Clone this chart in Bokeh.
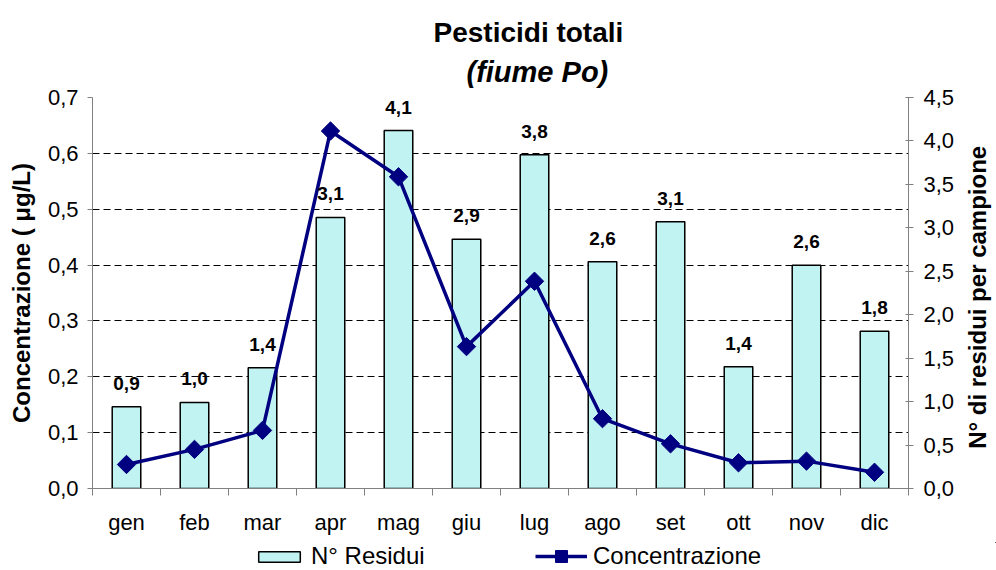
import math
from bokeh.plotting import figure
from bokeh.layouts import row, column
from bokeh.models import (Range1d, LinearAxis, FixedTicker, CustomJSTickFormatter,
                          ColumnDataSource, LabelSet, Legend, LegendItem, Title, Label)
from bokeh.core.properties import value
from bokeh.embed import file_html
from bokeh.resources import INLINE

# ---- data ----
months = ["gen", "feb", "mar", "apr", "mag", "giu", "lug", "ago", "set", "ott", "nov", "dic"]
n_residui = [0.94, 0.99, 1.39, 3.12, 4.12, 2.87, 3.84, 2.61, 3.07, 1.40, 2.57, 1.81]
concentrazione = [0.043, 0.070, 0.104, 0.640, 0.558, 0.254, 0.371, 0.125, 0.080, 0.046, 0.049, 0.029]
left_ticks = [i / 10 for i in range(8)]
right_ticks = [i / 2 for i in range(10)]

FONT = "Liberation Sans"
AXIS_GRAY = "#808080"
BAR_FILL = "#c2f3f3"
LINE_COL = "#000080"

xs = [i + 0.5 for i in range(len(months))]
bounds = [i for i in range(len(months) + 1)]
labels = [f"{v:.1f}".replace(".", ",") for v in n_residui]

src = ColumnDataSource(dict(x=xs, nres=n_residui, conc=concentrazione, lab=labels))

# ---------------- main chart ----------------
p = figure(width=962, height=542,
           x_range=Range1d(0, len(months)), y_range=Range1d(0, 0.7),
           output_backend="svg", toolbar_location=None,
           min_border_left=92, min_border_right=54, min_border_top=97, min_border_bottom=54)
p.extra_y_ranges = {"right": Range1d(0, 4.5)}
p.outline_line_color = None
p.background_fill_color = "white"
p.border_fill_color = "white"
p.xgrid.visible = False

# titles: main title on top, subtitle nearest the frame
p.title.text = "Pesticidi totali"
p.title.align = "left"
p.title.offset = 341
p.title.vertical_align = "bottom"
p.title.standoff = 0
p.title.text_font = FONT
p.title.text_font_size = "28px"
p.title.text_font_style = "bold"
p.title.text_color = "black"
p.add_layout(Title(text="(fiume Po)", align="left", offset=374, vertical_align="top",
                   standoff=16, text_font=FONT, text_font_size="29px",
                   text_font_style="bold italic", text_color="black"), "above")

comma_fmt = "return tick.toFixed(1).replace('.', ',');"

# left axis
ya = p.yaxis[0]
ya.ticker = FixedTicker(ticks=left_ticks)
ya.formatter = CustomJSTickFormatter(code=comma_fmt)
ya.axis_line_color = AXIS_GRAY
ya.major_tick_line_color = AXIS_GRAY
ya.major_tick_out = 5
ya.major_tick_in = 0
ya.minor_tick_line_color = None
ya.major_label_standoff = 9
ya.major_label_text_font = FONT
ya.major_label_text_font_size = "22px"
ya.major_label_text_color = "black"
ya.axis_label = "Concentrazione ( \u03bcg/L)"
ya.axis_label_standoff = 10
ya.axis_label_text_font = FONT
ya.axis_label_text_font_size = "24px"
ya.axis_label_text_font_style = "bold"
ya.axis_label_text_color = "black"

# grid
p.ygrid.ticker = FixedTicker(ticks=left_ticks[1:])
p.ygrid.grid_line_color = "black"
p.ygrid.grid_line_dash = "7 4"
p.ygrid.grid_line_width = 1

# right axis
ra = LinearAxis(y_range_name="right", ticker=FixedTicker(ticks=right_ticks),
                formatter=CustomJSTickFormatter(code=comma_fmt))
ra.axis_line_color = AXIS_GRAY
ra.major_tick_line_color = AXIS_GRAY
ra.major_tick_out = 5
ra.major_tick_in = 3
ra.minor_tick_line_color = None
ra.major_label_standoff = 10
ra.major_label_text_font = FONT
ra.major_label_text_font_size = "22px"
ra.major_label_text_color = "black"
p.add_layout(ra, "right")

# x axis
xa = p.xaxis[0]
xa.ticker = FixedTicker(ticks=xs, minor_ticks=bounds)
xa.formatter = CustomJSTickFormatter(args=dict(labels=months),
                                     code="return labels[Math.floor(tick)];")
xa.axis_line_color = AXIS_GRAY
xa.major_tick_out = 0
xa.major_tick_in = 0
xa.minor_tick_out = 7
xa.minor_tick_in = 0
xa.minor_tick_line_color = AXIS_GRAY
xa.major_label_standoff = 14
xa.major_label_text_font = FONT
xa.major_label_text_font_size = "22px"
xa.major_label_text_color = "black"

# bars
p.vbar(x="x", top="nres", width=0.42, source=src, y_range_name="right",
       fill_color=BAR_FILL, line_color="black", line_width=1.5)

# line
p.line(x="x", y="conc", source=src, line_color=LINE_COL, line_width=3.5)
p.scatter(x="x", y="conc", source=src, marker="square", angle=math.pi / 4, size=13,
          fill_color=LINE_COL, line_color=LINE_COL)

# bar value labels
ls = LabelSet(x="x", y="nres", text="lab", source=src, y_range_name="right",
              text_align="center", text_baseline="alphabetic", y_offset=17,
              text_font=value(FONT), text_font_size="19px", text_font_style="bold",
              text_color="black")
p.add_layout(ls)

# ---------------- right strip: right-axis title (reads bottom to top) ----------------
side = figure(width=34, height=542, x_range=Range1d(0, 34), y_range=Range1d(0, 542),
              output_backend="svg", toolbar_location=None,
              x_axis_type=None, y_axis_type=None,
              min_border_left=0, min_border_right=0, min_border_top=0, min_border_bottom=0)
side.outline_line_color = None
side.grid.visible = False
side.background_fill_color = "white"
side.border_fill_color = "white"
side.add_layout(Label(x=15, y=265, text="N\u00b0 di residui per campione", angle=math.pi / 2,
                      text_align="center", text_baseline="middle", text_font=FONT,
                      text_font_size="24px", text_font_style="bold", text_color="black"))

# ---------------- bottom strip: legend ----------------
# legend proxies reuse the same data, with ranges that keep the marks out of view
leg = figure(width=996, height=28, x_range=Range1d(-100, -99), y_range=Range1d(-100, -99),
             output_backend="svg", toolbar_location=None,
             x_axis_type=None, y_axis_type=None,
             min_border_left=0, min_border_right=0, min_border_top=0, min_border_bottom=0)
leg.outline_line_color = None
leg.grid.visible = False
leg.background_fill_color = "white"
leg.border_fill_color = "white"
lb = leg.vbar(x="x", top="nres", width=0.42, source=src,
              fill_color=BAR_FILL, line_color="black", line_width=1.5)
ll = leg.line(x="x", y="conc", source=src, line_color=LINE_COL, line_width=3.5)
lp = leg.scatter(x="x", y="conc", source=src, marker="square", angle=math.pi / 4, size=13,
                 fill_color=LINE_COL, line_color=LINE_COL)

legend_style = dict(orientation="horizontal", label_standoff=6, padding=0, margin=0,
                    border_line_color=None, background_fill_alpha=0,
                    label_text_font=FONT, label_text_font_size="24px",
                    label_text_color="black")
legend_bar = Legend(items=[LegendItem(label="N\u00b0 Residui", renderers=[lb])],
                    location=(253, 0), glyph_width=52, glyph_height=13, **legend_style)
legend_line = Legend(items=[LegendItem(label="Concentrazione", renderers=[ll, lp])],
                     location=(535, -1), glyph_width=52, glyph_height=30, **legend_style)
leg.add_layout(legend_bar)
leg.add_layout(legend_line)

layout = column(row(p, side, spacing=0), leg, spacing=0)
open("out.html", "w").write(file_html(layout, INLINE))
